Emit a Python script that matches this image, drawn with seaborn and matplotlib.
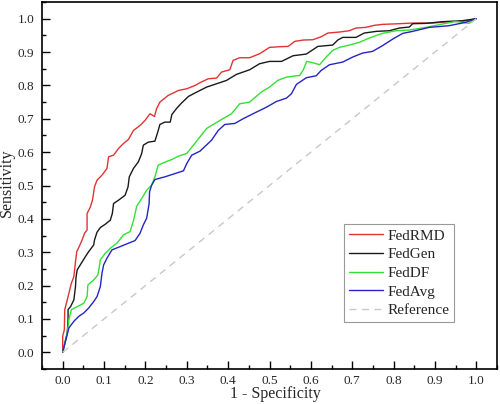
import numpy as np
import pandas as pd
import matplotlib
matplotlib.use("Agg")
import matplotlib.pyplot as plt
import seaborn as sns
from matplotlib.ticker import MultipleLocator, FormatStrFormatter

rmd_x = [0, 0.0, 0.004, 0.005, 0.011, 0.016, 0.021, 0.027, 0.031, 0.034, 0.040, 0.047, 0.053, 0.059, 0.059,
         0.067, 0.072, 0.077, 0.083, 0.095, 0.107, 0.111, 0.123, 0.135, 0.147, 0.159, 0.171, 0.187, 0.199,
         0.211, 0.222, 0.227, 0.235, 0.255, 0.280, 0.300, 0.320, 0.335, 0.352, 0.372, 0.384, 0.404, 0.412,
         0.428, 0.452, 0.476, 0.500, 0.524, 0.545, 0.561, 0.581, 0.605, 0.625, 0.641, 0.669, 0.693, 0.709,
         0.733, 0.753, 0.773, 0.814, 0.846, 0.894, 0.934, 0.966, 1.0]
rmd_y = [0, 0.048, 0.068, 0.128, 0.157, 0.182, 0.207, 0.227, 0.272, 0.302, 0.317, 0.337, 0.357, 0.367, 0.416,
         0.436, 0.456, 0.496, 0.516, 0.531, 0.551, 0.586, 0.591, 0.611, 0.626, 0.638, 0.665, 0.680, 0.695,
         0.715, 0.707, 0.730, 0.750, 0.770, 0.785, 0.790, 0.800, 0.810, 0.820, 0.822, 0.840, 0.847, 0.875,
         0.883, 0.883, 0.895, 0.914, 0.916, 0.917, 0.932, 0.936, 0.937, 0.946, 0.957, 0.960, 0.964, 0.972,
         0.974, 0.980, 0.983, 0.985, 0.987, 0.987, 0.991, 0.992, 1.0]

gen_x = [0, 0.007, 0.011, 0.013, 0.013, 0.019, 0.027, 0.031, 0.032, 0.035, 0.045, 0.055, 0.063, 0.075, 0.077,
         0.083, 0.091, 0.103, 0.115, 0.120, 0.123, 0.135, 0.151, 0.158, 0.161, 0.171, 0.183, 0.191, 0.195,
         0.207, 0.223, 0.231, 0.235, 0.247, 0.260, 0.264, 0.276, 0.288, 0.304, 0.324, 0.348, 0.372, 0.396,
         0.420, 0.452, 0.476, 0.500, 0.529, 0.557, 0.589, 0.617, 0.653, 0.665, 0.677, 0.709, 0.729, 0.758,
         0.790, 0.814, 0.838, 0.846, 0.878, 0.918, 0.966, 1.0]
gen_y = [0, 0.038, 0.058, 0.098, 0.128, 0.137, 0.157, 0.197, 0.222, 0.247, 0.267, 0.287, 0.302, 0.322, 0.337,
         0.360, 0.374, 0.384, 0.396, 0.416, 0.446, 0.456, 0.471, 0.496, 0.526, 0.551, 0.571, 0.596, 0.621,
         0.630, 0.633, 0.665, 0.683, 0.690, 0.690, 0.713, 0.732, 0.748, 0.767, 0.780, 0.795, 0.805, 0.815,
         0.833, 0.847, 0.865, 0.872, 0.872, 0.889, 0.894, 0.917, 0.921, 0.936, 0.944, 0.944, 0.957, 0.962,
         0.964, 0.972, 0.975, 0.985, 0.986, 0.991, 0.994, 1.0]

df_x = [0, 0.011, 0.015, 0.021, 0.035, 0.051, 0.059, 0.061, 0.075, 0.085, 0.088, 0.091, 0.103, 0.115, 0.131,
        0.147, 0.163, 0.171, 0.179, 0.191, 0.203, 0.215, 0.223, 0.231, 0.247, 0.264, 0.280, 0.300, 0.316,
        0.348, 0.380, 0.408, 0.428, 0.452, 0.480, 0.500, 0.520, 0.541, 0.573, 0.581, 0.590, 0.605, 0.621,
        0.637, 0.653, 0.669, 0.693, 0.717, 0.741, 0.773, 0.806, 0.838, 0.878, 0.918, 0.950, 0.982, 1.0]
df_y = [0, 0.058, 0.098, 0.128, 0.137, 0.147, 0.167, 0.202, 0.217, 0.232, 0.252, 0.277, 0.297, 0.312, 0.327,
        0.352, 0.362, 0.394, 0.438, 0.461, 0.486, 0.501, 0.526, 0.561, 0.570, 0.578, 0.588, 0.596, 0.621,
        0.671, 0.695, 0.715, 0.745, 0.750, 0.780, 0.795, 0.815, 0.825, 0.830, 0.845, 0.872, 0.868, 0.862,
        0.885, 0.905, 0.914, 0.921, 0.929, 0.942, 0.956, 0.964, 0.966, 0.974, 0.984, 0.992, 0.986, 1.0]

avg_x = [0, 0.015, 0.027, 0.039, 0.051, 0.063, 0.075, 0.083, 0.091, 0.095, 0.099, 0.107, 0.119, 0.135, 0.155,
         0.175, 0.187, 0.195, 0.203, 0.209, 0.210, 0.215, 0.223, 0.247, 0.272, 0.292, 0.300, 0.312, 0.332,
         0.360, 0.376, 0.392, 0.416, 0.436, 0.460, 0.493, 0.517, 0.541, 0.553, 0.565, 0.589, 0.613, 0.625,
         0.645, 0.677, 0.701, 0.725, 0.749, 0.773, 0.798, 0.822, 0.846, 0.886, 0.934, 0.974, 1.0]
avg_y = [0, 0.073, 0.093, 0.108, 0.118, 0.133, 0.152, 0.167, 0.197, 0.237, 0.262, 0.282, 0.307, 0.315, 0.325,
         0.335, 0.357, 0.382, 0.402, 0.446, 0.481, 0.501, 0.518, 0.526, 0.536, 0.544, 0.566, 0.591, 0.603,
         0.636, 0.665, 0.683, 0.686, 0.700, 0.715, 0.735, 0.752, 0.762, 0.775, 0.803, 0.823, 0.829, 0.845,
         0.862, 0.870, 0.885, 0.897, 0.902, 0.919, 0.939, 0.956, 0.962, 0.974, 0.979, 0.989, 1.0]

ref_x = [0.0, 1.0]
ref_y = [0.0, 1.0]

sns.set_style("ticks")
plt.rcParams['font.family'] = ['Liberation Serif', 'DejaVu Serif']

fig = plt.figure(figsize=(5.0, 4.04), dpi=100)
ax = fig.add_axes([0.084, 0.0866, 0.910, 0.9084])

series = [
    ("FedRMD", rmd_x, rmd_y, "#e03434"),
    ("FedGen", gen_x, gen_y, "#1a1a1a"),
    ("FedDF", df_x, df_y, "#33e033"),
    ("FedAvg", avg_x, avg_y, "#2424c8"),
]
for name, xs, ys, c in series:
    sns.lineplot(x=xs, y=ys, ax=ax, color=c, label=name, sort=False,
                 estimator=None, linewidth=1.0)
sns.lineplot(x=ref_x, y=ref_y, ax=ax, color="#c8c8c8", label="Reference",
             sort=False, estimator=None, linewidth=1.0, linestyle=(0, (5, 4)))

ax.set_xlim(-0.05, 1.05)
ax.set_ylim(-0.05, 1.05)
ax.xaxis.set_major_locator(MultipleLocator(0.1))
ax.xaxis.set_minor_locator(MultipleLocator(0.05))
ax.yaxis.set_major_locator(MultipleLocator(0.1))
ax.yaxis.set_minor_locator(MultipleLocator(0.05))
ax.xaxis.set_major_formatter(FormatStrFormatter('%.1f'))
ax.yaxis.set_major_formatter(FormatStrFormatter('%.1f'))
ax.tick_params(which='major', direction='in', length=6, width=1.0, labelsize=9.5,
               color='black')
ax.tick_params(axis='x', which='major', pad=4.5)
ax.tick_params(axis='y', which='major', pad=5.5)
ax.tick_params(which='minor', direction='in', length=3, width=1.0, color='black')
ax.tick_params(top=False, right=False, which='both')
for s in ax.spines.values():
    s.set_visible(True)
    s.set_color('black')
    s.set_linewidth(1.2)

ax.set_xlabel("1 - Specificity", fontsize=11.5)
ax.set_ylabel("Sensitivity", fontsize=11.5)
ax.xaxis.set_label_coords(0.512, -0.046)
ax.yaxis.set_label_coords(-0.059, 0.508)

leg = ax.legend(loc='lower right', bbox_to_anchor=(0.905, 0.128), fontsize=11,
                frameon=True, fancybox=False, edgecolor='#808080', handlelength=2.2,
                handletextpad=0.3, borderpad=0.3, labelspacing=0.33, borderaxespad=0)
leg.get_frame().set_linewidth(0.8)

fig.savefig("out.png", dpi=100)
